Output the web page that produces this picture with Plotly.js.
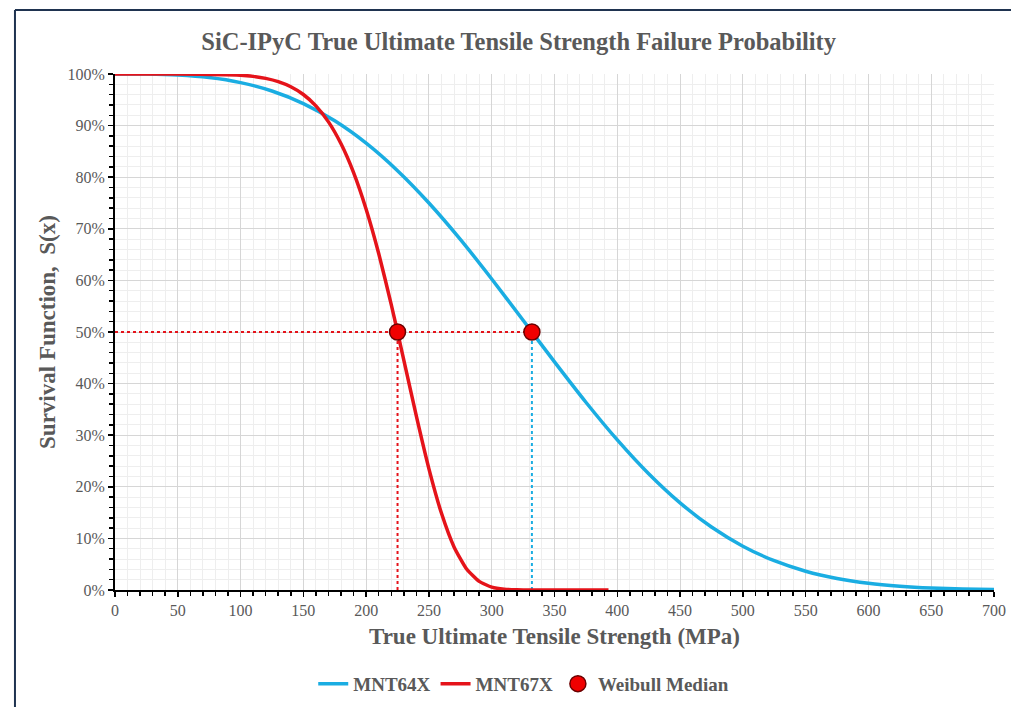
<!DOCTYPE html>
<html>
<head>
<meta charset="utf-8">
<script src="https://cdn.plot.ly/plotly-3.0.1.min.js"></script>
<style>
html,body{margin:0;padding:0;background:#fff;}
#chart{width:1011px;height:707px;}
</style>
</head>
<body>
<div id="chart"></div>
<script>
// Survival function readings (x in MPa, S in %)
const mnt64x_x = [0,25,50,75,100,125,150,175,200,225,250,275,300,325,350,375,400,425,450,475,500,525,550,575,600,625,650,675,700];
const mnt64x_s = [100,99.98,99.8,99.31,98.33,96.7,94.27,90.92,86.59,81.26,75.0,67.95,60.28,52.27,44.21,36.39,29.09,22.53,16.88,12.2,8.49,5.67,3.64,2.23,1.3,0.73,0.38,0.19,0.09];

const mnt67x_x = [0,50,100,110,120,130,140,150,160,170,180,190,200,210,220,225,230,240,250,260,270,280,290,300,310,320,330,350,393];
const mnt67x_s = [100,99.99,99.76,99.54,99.15,98.52,97.53,96.03,93.83,90.72,86.47,80.89,73.8,65.22,55.32,50,44.56,33.68,23.48,14.86,8.35,4.06,1.67,0.56,0.15,0.03,0,0,0];

const median_x = [225,332];
const median_s = [50,50];

const titleText = 'SiC-IPyC True Ultimate Tensile Strength Failure Probability';
const xTitle = 'True Ultimate Tensile Strength (MPa)';
const yTitle = 'Survival Function,  S(x)';

const blue = '#1AADE2';
const red = '#E5131A';
const serif = '"Liberation Serif", "Times New Roman", serif';
const gray = '#595959';

const traces = [
  {x:[0, median_x[1]], y:[median_s[0], median_s[1]], mode:'lines', line:{color:red, width:2, dash:'dot'}, showlegend:false, hoverinfo:'skip'},
  {x:[median_x[0], median_x[0]], y:[0, median_s[0]], mode:'lines', line:{color:red, width:2, dash:'dot'}, showlegend:false, hoverinfo:'skip'},
  {x:[median_x[1], median_x[1]], y:[0, median_s[1]], mode:'lines', line:{color:blue, width:2, dash:'dot'}, showlegend:false, hoverinfo:'skip'},
  {x:mnt64x_x, y:mnt64x_s, name:'MNT64X', mode:'lines', line:{color:blue, width:3.5, shape:'spline', smoothing:0.6}},
  {x:mnt67x_x, y:mnt67x_s, name:'MNT67X', mode:'lines', line:{color:red, width:3.5, shape:'spline', smoothing:0.5}},
  {x:median_x, y:median_s, name:'Weibull Median', mode:'markers', marker:{color:'#F00000', size:16, line:{color:'#6B0000', width:1.5}}}
];

const layout = {
  width:1011, height:707,
  margin:{l:115, r:17, t:74, b:117, autoexpand:false},
  paper_bgcolor:'#fff', plot_bgcolor:'#fff',
  title:{text:titleText, x:0.513, xref:'container', xanchor:'center', y:0.942, yref:'container', yanchor:'middle',
         font:{family:serif, size:24.5, color:gray, weight:'bold'}},
  xaxis:{
    range:[0,700], tick0:0, dtick:50, showgrid:true, gridcolor:'#d6d6d6', gridwidth:1,
    minor:{dtick:10, showgrid:true, gridcolor:'#eeeeee', ticks:'outside', ticklen:4, tickcolor:'#000', tickwidth:1.5},
    ticks:'outside', ticklen:5, tickwidth:1.5, tickcolor:'#000',
    showline:true, linecolor:'#000', linewidth:2, zeroline:false, automargin:false,
    tickfont:{family:serif, size:16, color:gray},
    title:{text:xTitle, standoff:10, font:{family:serif, size:23, color:gray, weight:'bold'}}
  },
  yaxis:{
    range:[0,100], tick0:0, dtick:10, ticksuffix:'%', showgrid:true, gridcolor:'#d6d6d6', gridwidth:1,
    minor:{dtick:2, showgrid:true, gridcolor:'#eeeeee', ticks:'outside', ticklen:4, tickcolor:'#000', tickwidth:1.5},
    ticks:'outside', ticklen:5, tickwidth:1.5, tickcolor:'#000',
    showline:true, linecolor:'#000', linewidth:2, zeroline:false, automargin:false,
    tickfont:{family:serif, size:16, color:gray},
    title:{text:yTitle, standoff:5, font:{family:serif, size:23, color:gray, weight:'bold'}}
  },
  legend:{orientation:'h', x:0.465, xanchor:'center', y:-0.145, yanchor:'top',
          font:{family:serif, size:19, color:gray, weight:'bold'}, itemwidth:30, tracegroupgap:0},
  shapes:[
    {type:'line', xref:'paper', yref:'paper', x0:-0.1138, x1:1.03, y0:1.124, y1:1.124, line:{color:'#1F3350', width:2}},
    {type:'line', xref:'paper', yref:'paper', x0:-0.1138, x1:-0.1138, y0:1.124, y1:-0.3, line:{color:'#1F3350', width:2}}
  ],
  showlegend:true
};

Plotly.newPlot('chart', traces, layout, {displayModeBar:false, staticPlot:true});
</script>
</body>
</html>
